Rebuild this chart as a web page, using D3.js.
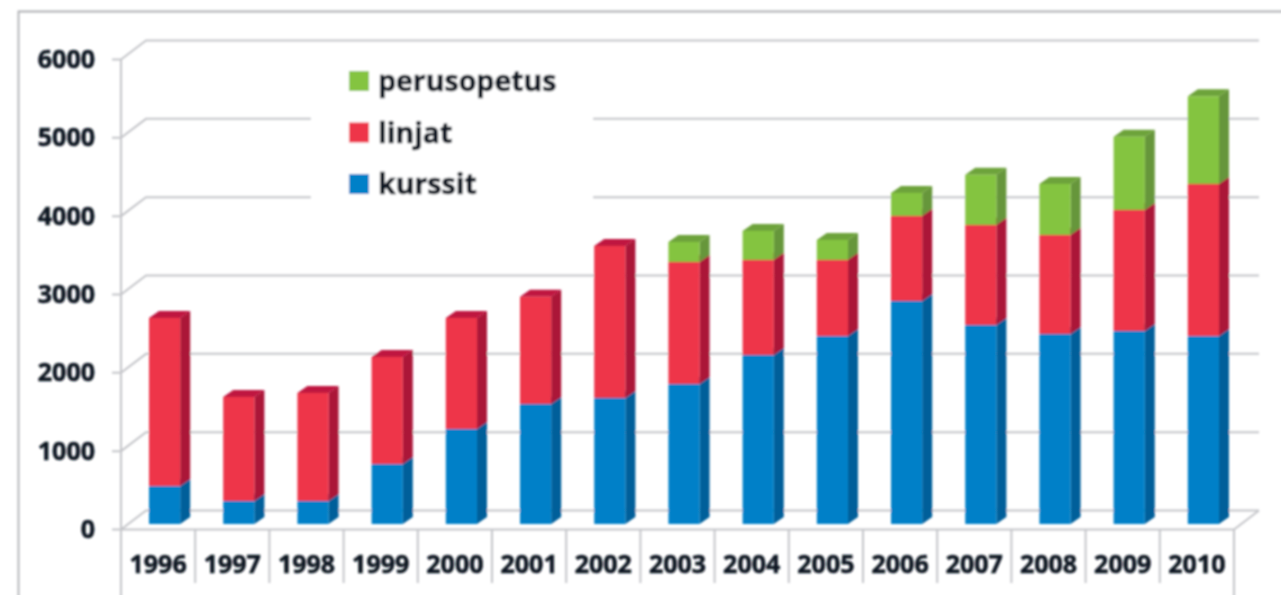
<!DOCTYPE html>
<html>
<head>
<meta charset="utf-8">
<script src="https://cdn.jsdelivr.net/npm/d3@7"></script>
<style>
	html, body { margin: 0; padding: 0; background: #fff; overflow: hidden; }
	svg { display: block; }
	text { font-family: "Open Sans", sans-serif; font-weight: 700; fill: #101824; stroke: #101824; stroke-width: 0.55px; }
</style>
</head>
<body>
<svg id="chart"></svg>
<script>
var years = ["1996","1997","1998","1999","2000","2001","2002","2003","2004","2005","2006","2007","2008","2009","2010"];
var kurssit = [485,294,294,766,1213,1533,1610,1788,2158,2400,2848,2541,2427,2465,2400];
var linjat = [2145,1328,1379,1367,1417,1367,1940,1558,1214,972,1086,1278,1264,1545,1942];
var perusopetus = [0,0,0,0,0,0,0,254,370,255,293,638,651,933,1118];
var yTicks = [0,1000,2000,3000,4000,5000,6000];
var seriesNames = ["kurssit","linjat","perusopetus"];
var legendOrder = ["perusopetus","linjat","kurssit"];

var w = 1281;
var h = 595;
var x0 = 121, x1 = 1234;
var yTop = 59.5, yBase = 529.5;
var depthX = 25, depthY = -19;
var barDx = 6.5, barDy = -5.5;   // bars stand a bit behind the front edge
var sideX = 10, sideY = -7;

var colors = {
	kurssit: { front: "#0080c8", side: "#005f9a", top: "#006aa8" },
	linjat: { front: "#ee354a", side: "#ab1239", top: "#bf133f" },
	perusopetus: { front: "#84c440", side: "#66963a", top: "#6da33a" }
};
var gridColor = "#c4c5c9";

var svg = d3.select("#chart").attr("width", w).attr("height", h);

var defs = svg.append("defs");
defs.append("filter").attr("id", "soft")
	.attr("filterUnits", "userSpaceOnUse")
	.attr("x", 0).attr("y", 0).attr("width", w).attr("height", h)
	.append("feGaussianBlur").attr("stdDeviation", 0.8);

var root = svg.append("g").attr("filter", "url(#soft)");

var xscale = d3.scaleBand().domain(years).range([x0, x1]).paddingInner(0.58).paddingOuter(0.29);
var yscale = d3.scaleLinear().domain([0, 6000]).range([yBase, yTop]);

var rows = years.map(function(d, i){
	return { year: d, kurssit: kurssit[i], linjat: linjat[i], perusopetus: perusopetus[i] };
});
var stacked = d3.stack().keys(seriesNames)(rows);

// outer frame
root.append("path")
	.attr("d", "M18.5 600V11.5H1290")
	.attr("fill", "none")
	.attr("stroke", "#aeafb3")
	.attr("stroke-width", 1.8);

// walls and grid
root.append("g").selectAll("path.grid")
	.data(yTicks)
	.enter().append("path")
		.attr("class", "grid")
		.attr("fill", "none")
		.attr("stroke", gridColor)
		.attr("stroke-width", 2)
		.attr("d", function(d){
			var y = yscale(d);
			return "M112 " + y + "H" + x0 + "L" + (x0 + depthX) + " " + (y + depthY) + "H" + (x1 + depthX);
		});

root.append("line")
	.attr("x1", x0).attr("x2", x0)
	.attr("y1", yTop).attr("y2", h + 5)
	.attr("stroke", gridColor).attr("stroke-width", 2);

// floor front edge, right side
root.append("path")
	.attr("fill", "none")
	.attr("stroke", gridColor)
	.attr("stroke-width", 2)
	.attr("d", "M" + x0 + " " + yBase + "H" + x1 + "L" + (x1 + depthX) + " " + (yBase + depthY));

// year separators
root.append("g").selectAll("line.sep")
	.data(d3.range(1, years.length + 1))
	.enter().append("line")
		.attr("class", "sep")
		.attr("x1", function(d){ return x0 + d * xscale.step(); })
		.attr("x2", function(d){ return x0 + d * xscale.step(); })
		.attr("y1", yBase)
		.attr("y2", function(d){ return d == years.length ? h + 5 : 583; })
		.attr("stroke", gridColor)
		.attr("stroke-width", 2);

// legend background hides part of the grid
root.append("rect")
	.attr("x", 311).attr("y", 60)
	.attr("width", 282).attr("height", 145)
	.attr("fill", "#fff");

// bars, back to front inside each column
var bars = root.append("g");
stacked.forEach(function(layer){
	var c = colors[layer.key];
	var g = bars.append("g").attr("class", "layer-" + layer.key);

	var visible = layer.filter(function(d){ return d[1] > d[0]; });

	g.selectAll("path.side")
		.data(visible)
		.enter().append("path")
			.attr("class", "side")
			.attr("fill", c.side)
			.attr("d", function(d){
				var r = xscale(d.data.year) + barDx + xscale.bandwidth();
				var yb = yscale(d[0]) + barDy;
				var yt = yscale(d[1]) + barDy;
				return "M" + r + " " + yb + "L" + (r + sideX) + " " + (yb + sideY) + "V" + (yt + sideY) + "L" + r + " " + yt + "Z";
			});

	g.selectAll("path.top")
		.data(visible)
		.enter().append("path")
			.attr("class", "top")
			.attr("fill", c.top)
			.attr("d", function(d){
				var l = xscale(d.data.year) + barDx;
				var r = l + xscale.bandwidth();
				var yt = yscale(d[1]) + barDy;
				return "M" + l + " " + yt + "L" + (l + sideX) + " " + (yt + sideY) + "H" + (r + sideX) + "L" + r + " " + yt + "Z";
			});

	g.selectAll("rect.front")
		.data(visible)
		.enter().append("rect")
			.attr("class", "front")
			.attr("fill", c.front)
			.attr("x", function(d){ return xscale(d.data.year) + barDx; })
			.attr("width", xscale.bandwidth())
			.attr("y", function(d){ return yscale(d[1]) + barDy; })
			.attr("height", function(d){ return yscale(d[0]) - yscale(d[1]); });
});

// axes, only their labels are shown
var yaxis = d3.axisLeft(yscale).tickValues(yTicks).tickFormat(d3.format("d")).tickSize(0).tickPadding(26);
var xaxis = d3.axisBottom(xscale).tickSize(0).tickPadding(0);

var yg = root.append("g").attr("transform", "translate(" + x0 + ",0)").call(yaxis);
yg.select(".domain").remove();
yg.selectAll("text").style("font-size", "25px").attr("dy", "0.32em");

var xg = root.append("g").attr("transform", "translate(0," + yBase + ")").call(xaxis);
xg.select(".domain").remove();
xg.selectAll("text").style("font-size", "25px").attr("y", 43).attr("dy", 0);

// legend
var legendY = d3.scalePoint().domain(legendOrder).range([81, 184]);
var legend = root.append("g").selectAll("g.item")
	.data(legendOrder)
	.enter().append("g")
		.attr("class", "item")
		.attr("transform", function(d){ return "translate(349," + legendY(d) + ")"; });
legend.append("rect")
	.attr("y", -10).attr("width", 20).attr("height", 20)
	.attr("fill", function(d){ return colors[d].front; });
legend.append("text")
	.attr("x", 29).attr("y", 10)
	.style("font-size", "28.5px")
	.text(function(d){ return d; });
</script>
</body>
</html>
